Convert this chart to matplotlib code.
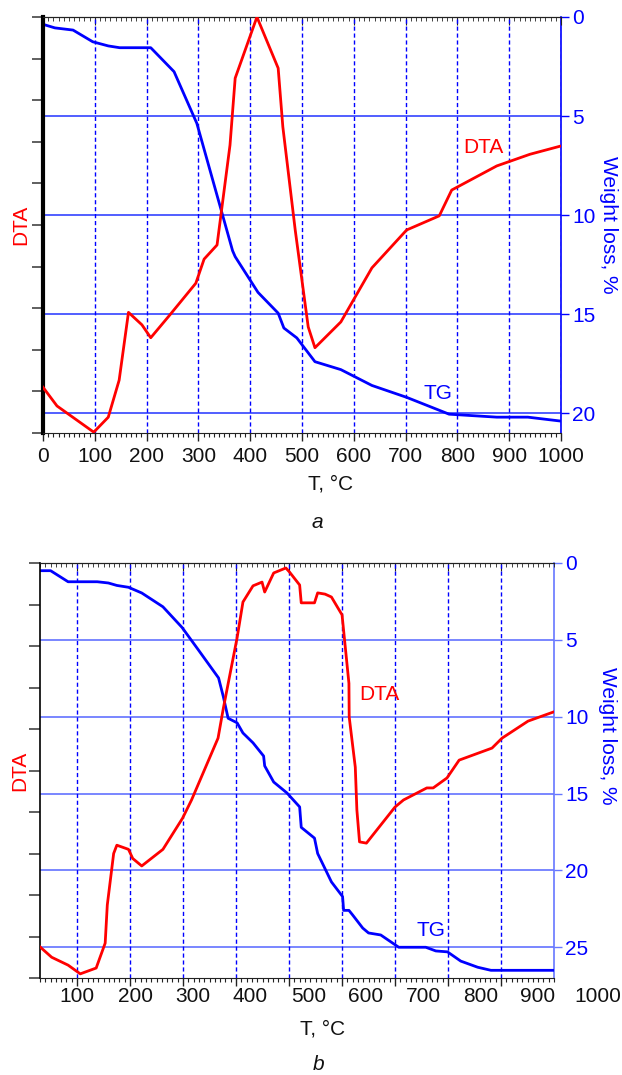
import matplotlib
matplotlib.use("Agg")
import matplotlib.pyplot as plt
from matplotlib.ticker import MultipleLocator, NullFormatter
import matplotlib.transforms as mtransforms

plt.rcParams['font.family'] = ['Liberation Sans', 'DejaVu Sans']
plt.rcParams['font.size'] = 15

# ---- panel a data ----
a_dta_t = [0, 27, 98, 126, 147, 165, 191, 208, 245, 295, 311, 336, 361, 371, 413,
           454, 463, 487, 512, 525, 575, 635, 702, 765, 789, 876, 940, 1000]
a_dta = [1.1, 0.65, 0.02, 0.38, 1.27, 2.9, 2.6, 2.29, 2.84, 3.6, 4.18, 4.52, 6.92, 8.53, 10.0,
         8.77, 7.36, 4.87, 2.55, 2.05, 2.67, 3.97, 4.88, 5.22, 5.84, 6.42, 6.7, 6.9]
a_tg_t = [0, 23, 58, 96, 126, 148, 208, 253, 297, 366, 371, 415, 454, 465, 490, 525,
          575, 635, 702, 784, 876, 936, 1000]
a_tg = [0.37, 0.55, 0.66, 1.25, 1.46, 1.55, 1.55, 2.76, 5.37, 11.8, 12.1, 13.9, 14.95, 15.7,
        16.2, 17.4, 17.8, 18.6, 19.2, 20.05, 20.2, 20.2, 20.4]

# ---- panel b data ----
b_dta_t = [30, 52, 83, 106, 136, 153, 157, 169, 175, 197, 205, 222, 262, 299, 316, 366, 376,
           402, 413, 432, 449, 454, 471, 494, 501, 520, 523, 548, 554, 568, 580, 600, 613,
           613.5, 625, 628, 633, 646, 700, 716, 760, 772, 798, 821, 883, 902, 951, 999]
b_dta = [0.75, 0.5, 0.31, 0.1, 0.24, 0.84, 1.76, 3.0, 3.2, 3.1, 2.88, 2.7, 3.1, 3.85, 4.29,
         5.78, 6.5, 8.2, 9.06, 9.45, 9.54, 9.3, 9.76, 9.88, 9.78, 9.47, 9.04, 9.04, 9.28, 9.25,
         9.18, 8.75, 7.1, 6.29, 5.08, 4.05, 3.28, 3.25, 4.12, 4.29, 4.58, 4.58, 4.82, 5.25,
         5.54, 5.78, 6.19, 6.41]
b_tg_t = [30, 50, 83, 138, 159, 175, 197, 222, 262, 298, 329, 367, 376, 385, 402, 413, 432,
          452, 454, 471, 496, 520, 523, 548, 554, 580, 601, 603, 613, 620, 639, 650, 673, 707,
          758, 777, 799, 824, 856, 881, 1000]
b_tg = [0.5, 0.5, 1.22, 1.22, 1.3, 1.46, 1.58, 1.95, 2.85, 4.19, 5.66, 7.48, 8.7, 10.1, 10.4,
        11.06, 11.7, 12.56, 13.2, 14.25, 14.96, 15.87, 17.2, 17.9, 18.9, 20.75, 21.7, 22.6,
        22.6, 22.9, 23.75, 24.07, 24.2, 25.0, 25.0, 25.24, 25.3, 25.9, 26.3, 26.5, 26.5]

a_xticks = list(range(0, 1001, 100))
b_xticks = list(range(100, 901, 100))
b_xlabels = ['100', '200', '300', '400', '500', '600', '700', '800', '900', '1000']
b_xlabel_pos = [100, 210, 319, 427, 537, 644, 754, 861, 969, 1082]

RED = '#ff0000'
BLUE = '#0000ff'
W, H = 622, 1075


def setup_panel(ax, xlim, wmax, wticks, hgrid_color, left_lw, rspine_color):
    ax.set_xlim(*xlim)
    ax.set_ylim(0, 10)
    ax.yaxis.set_major_locator(MultipleLocator(1))
    ax.yaxis.set_major_formatter(NullFormatter())
    ax.tick_params(axis='y', direction='out', length=8, width=1.2, color='#444444')
    ax.xaxis.set_minor_locator(MultipleLocator(10))
    ax.tick_params(axis='x', which='major', direction='out', length=6, width=1, pad=4,
                   color='#222222', labelcolor='#111111')
    ax.tick_params(axis='x', which='minor', direction='out', length=3, width=0.8,
                   color='#222222')
    for s in ['top', 'bottom']:
        ax.spines[s].set_color('#222222')
    ax.spines['left'].set_linewidth(left_lw)
    ax.spines['left'].set_color('black')
    ax.spines['right'].set_visible(False)
    ax.grid(axis='x', which='major', color=BLUE, linestyle=(0, (3, 2)), linewidth=1.0)
    ax.set_axisbelow(True)

    # top spine: inward ticks, no labels
    top = ax.secondary_xaxis('top')
    top.set_xticks(ax.get_xticks())
    top.xaxis.set_minor_locator(MultipleLocator(10))
    top.tick_params(axis='x', which='major', direction='in', length=6, color='#222222',
                    labeltop=False)
    top.tick_params(axis='x', which='minor', direction='in', length=3, color='#222222')
    top.spines['top'].set_color('#222222')

    # weight loss axis on the right, inverted
    ax2 = ax.twinx()
    ax2.set_ylim(wmax, 0)
    ax2.set_yticks(wticks)
    ax2.tick_params(axis='y', direction='out', length=6, width=1, color=rspine_color,
                    labelcolor=BLUE, pad=2)
    ax2.spines['right'].set_color(rspine_color)
    ax2.spines['right'].set_linewidth(1.2)
    for s in ['top', 'bottom', 'left']:
        ax2.spines[s].set_visible(False)
    for v in wticks[1:]:
        ax2.axhline(v, color=hgrid_color, linewidth=1.1, zorder=0)
    return ax2


fig = plt.figure(figsize=(W / 100, H / 100), dpi=100)

# ---- panel a ----
ax_a = fig.add_axes([43 / W, 1 - 433 / H, 518 / W, 416 / H])
ax_a.set_xticks(a_xticks)
ax2_a = setup_panel(ax_a, (0, 1000), 21, [0, 5, 10, 15, 20], '#2233ff', 3.0, BLUE)
ax2_a.plot(a_tg_t, a_tg, color=BLUE, linewidth=2.0, zorder=3)
ax_a.set_zorder(ax2_a.get_zorder() + 1)
ax_a.patch.set_visible(False)
ax_a.plot(a_dta_t, a_dta, color=RED, linewidth=2.0, zorder=4)
ax_a.text(851, 6.87, 'DTA', color=RED, ha='center', va='center')
ax2_a.text(762, 19.0, 'TG', color=BLUE, ha='center', va='center')
ax_a.set_ylabel('DTA', color=RED)
ax_a.yaxis.set_label_coords(-0.025, 0.5)
ax_a.set_xlabel('T, °C', color='#111111')
ax_a.xaxis.set_label_coords(0.556, -0.1)
ax2_a.set_ylabel('Weight loss, %', color=BLUE, rotation=-90, va='center')
ax2_a.yaxis.set_label_coords(1.091, 0.5)
fig.text(317 / W, 1 - 522 / H, 'a', style='italic', ha='center', va='center',
         color='#111111')

# ---- panel b ----
ax_b = fig.add_axes([40 / W, 1 - 978 / H, 514 / W, 415 / H])
ax_b.set_xticks(b_xticks)
ax_b.set_xticklabels([''] * len(b_xticks))
ax2_b = setup_panel(ax_b, (30, 1000), 27, [0, 5, 10, 15, 20, 25], '#5566ff', 1.2, '#6677ff')
ax2_b.plot(b_tg_t, b_tg, color=BLUE, linewidth=2.0, zorder=3)
ax_b.set_zorder(ax2_b.get_zorder() + 1)
ax_b.patch.set_visible(False)
ax_b.plot(b_dta_t, b_dta, color=RED, linewidth=2.0, zorder=4)
# tick labels in the source are offset from the ticks themselves
trans = mtransforms.blended_transform_factory(ax_b.transData, ax_b.transAxes)
for pos, lab in zip(b_xlabel_pos, b_xlabels):
    ax_b.text(pos, -0.045, lab, transform=trans, ha='center', va='center',
              color='#111111', clip_on=False)
ax_b.text(671, 6.84, 'DTA', color=RED, ha='center', va='center')
ax2_b.text(767, 23.9, 'TG', color=BLUE, ha='center', va='center')
ax_b.set_ylabel('DTA', color=RED)
ax_b.yaxis.set_label_coords(-0.02, 0.5)
ax_b.set_xlabel('T, °C', color='#111111')
ax_b.xaxis.set_label_coords(0.549, -0.1)
ax2_b.set_ylabel('Weight loss, %', color=BLUE, rotation=-90, va='center')
ax2_b.yaxis.set_label_coords(1.105, 0.583)
fig.text(319 / W, 1 - 1065 / H, 'b', style='italic', ha='center', va='center',
         color='#111111')

fig.savefig('out.png', dpi=100)
plt.close(fig)
